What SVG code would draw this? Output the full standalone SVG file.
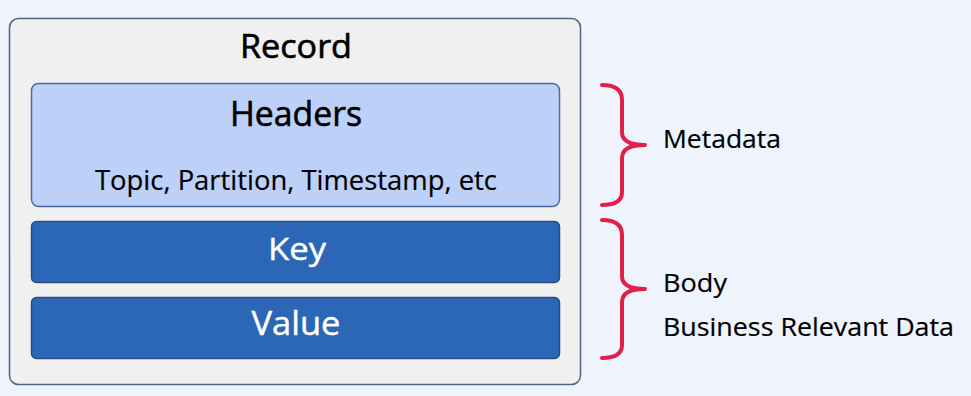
<svg xmlns="http://www.w3.org/2000/svg" width="971" height="396" viewBox="0 0 971 396">
<style>
.t{font-family:"Open Sans","Noto Sans","Liberation Sans",sans-serif;text-anchor:middle}
.b{stroke:#000;stroke-width:0.6}
.d{fill:#000}
.w{fill:#fff}
.wb{stroke:#fff;stroke-width:0.4}
.l{font-family:"Open Sans","Noto Sans","Liberation Sans",sans-serif;fill:#000;font-size:25px;stroke:#000;stroke-width:0.2}
.brace{fill:none;stroke:#e0204a;stroke-width:4;stroke-linecap:round;stroke-linejoin:round}
.blue{fill:#2b67b6;stroke:#2a4f7f;stroke-width:1.5}
</style>
<rect width="971" height="396" fill="#eef3fc"/>
<g id="record">
<rect x="9.5" y="18.5" width="571" height="366" rx="9" fill="#f0f0f1" stroke="#4d6487" stroke-width="1.5"/>
<text class="t d b" x="296" y="58" font-size="32" textLength="112" lengthAdjust="spacingAndGlyphs">Record</text>
</g>
<g id="headers">
<rect x="31.5" y="83.5" width="528" height="123" rx="7" fill="#bdd1f8" stroke="#4b6ca3" stroke-width="1.5"/>
<text class="t d b" x="296" y="126" font-size="35" textLength="132" lengthAdjust="spacingAndGlyphs">Headers</text>
<text class="t d" x="296" y="190" font-size="27" textLength="402" lengthAdjust="spacingAndGlyphs" stroke="#000" stroke-width="0.2">Topic, Partition, Timestamp, etc</text>
</g>
<g id="key">
<rect class="blue" x="31.5" y="221.5" width="528" height="61" rx="5"/>
<text class="t w wb" x="297" y="260" font-size="31" textLength="58" lengthAdjust="spacingAndGlyphs">Key</text>
</g>
<g id="value">
<rect class="blue" x="31.5" y="297.5" width="528" height="61" rx="5"/>
<text class="t w wb" x="296" y="335" font-size="32" textLength="89" lengthAdjust="spacingAndGlyphs">Value</text>
</g>
<g id="connectors">
<path class="brace" d="M602,85 Q622,85 622,100 L622,132 Q622,145 645,145 Q622,145 622,158 L622,192 Q622,205 602,205"/>
<path class="brace" d="M602,220 Q622,220 622,235 L622,276 Q622,289 645,289 Q622,289 622,302 L622,345 Q622,358 602,358"/>
</g>
<g id="metadata">
<text class="l" x="663" y="148" textLength="118" lengthAdjust="spacingAndGlyphs">Metadata</text>
</g>
<g id="body">
<text class="l" x="663" y="292" textLength="64" lengthAdjust="spacingAndGlyphs">Body</text>
<text class="l" x="663" y="336" textLength="291" lengthAdjust="spacingAndGlyphs">Business Relevant Data</text>
</g>
</svg>
